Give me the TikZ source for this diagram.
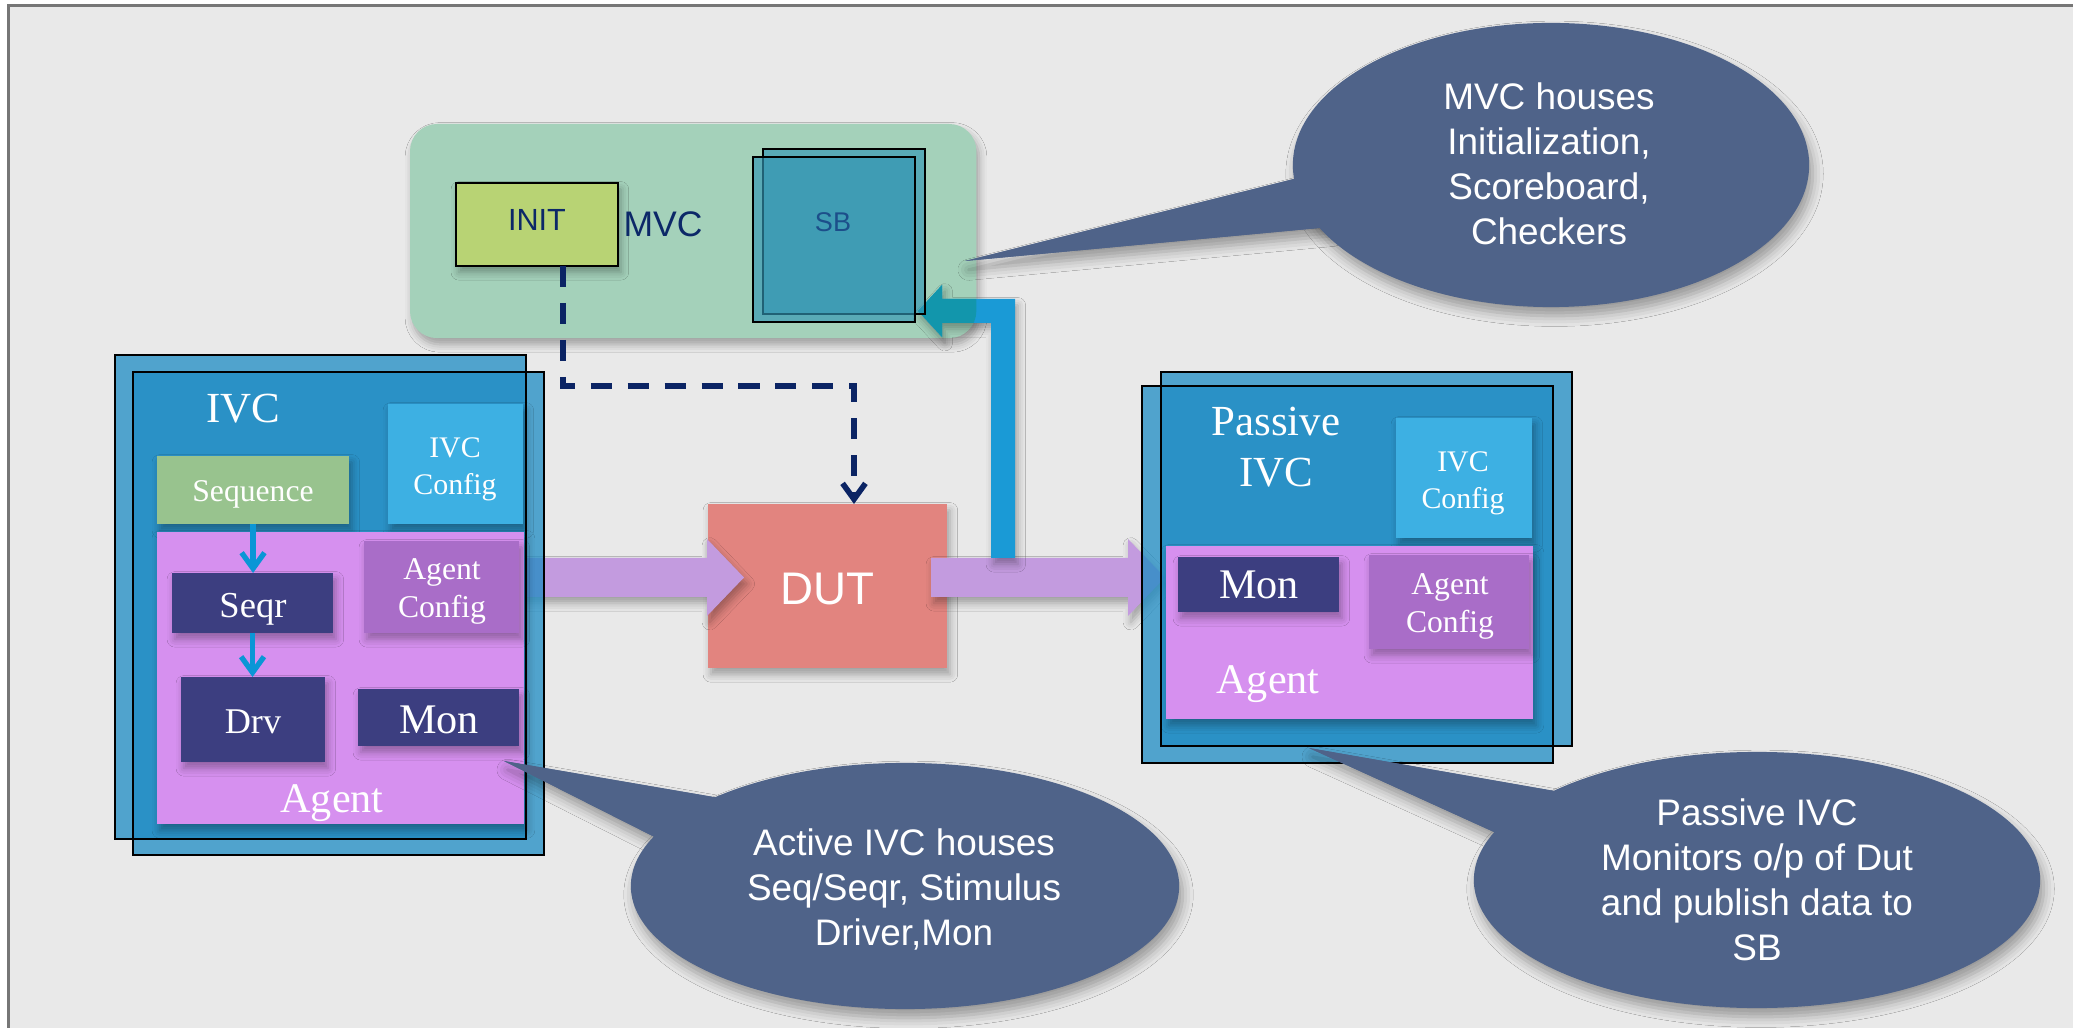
\documentclass[tikz,border=0pt]{standalone}
\usepackage{fontspec}
\setmainfont{Liberation Serif}
\setsansfont{Liberation Sans}
\usetikzlibrary{arrows.meta,calc,shadows.blur}
\definecolor{bggray}{RGB}{233,233,233}
\definecolor{framegray}{RGB}{118,118,118}
\definecolor{mvcgreen}{RGB}{164,209,186}
\definecolor{initgreen}{RGB}{184,211,116}
\definecolor{navytext}{RGB}{12,40,104}
\definecolor{sbteal}{RGB}{50,150,180}
\definecolor{sbtext}{RGB}{28,78,138}
\definecolor{ivcblue}{RGB}{30,140,196}
\definecolor{cfgblue}{RGB}{61,176,227}
\definecolor{agentpink}{RGB}{214,144,239}
\definecolor{agcfgpurple}{RGB}{169,109,200}
\definecolor{indigo}{RGB}{60,62,128}
\definecolor{seqgreen}{RGB}{152,195,142}
\definecolor{dutred}{RGB}{226,132,127}
\definecolor{fatpurple}{RGB}{195,155,223}
\definecolor{fatblue}{RGB}{26,154,214}
\definecolor{fatteal}{RGB}{18,150,172}
\definecolor{smallblue}{RGB}{10,150,214}
\definecolor{dashnavy}{RGB}{11,36,100}
\definecolor{calloutblue}{RGB}{79,99,137}
% #1 style, #2 start, #3 tip, #4 shaft half width, #5 head half width, #6 head length
\newcommand{\fatarrowH}[6]{\fill[#1] ($(#2)+(0,-#4)$) -- ($(#3)+(-#6,-#4)$) -- ($(#3)+(-#6,-#5)$) -- (#3) -- ($(#3)+(-#6,#5)$) -- ($(#3)+(-#6,#4)$) -- ($(#2)+(0,#4)$) -- cycle;}
\begin{document}
\begin{tikzpicture}[x=0.01cm, y=-0.01cm,
  box/.style 2 args={anchor=north west, inner sep=0pt, outer sep=0pt, minimum width=#1mm, minimum height=#2mm},
  shad/.style={blur shadow={shadow xshift=0.8pt, shadow yshift=-1.8pt, shadow blur radius=2.2pt, shadow opacity=32}},
  bigshad/.style={blur shadow={shadow xshift=1pt, shadow yshift=-2.5pt, shadow blur radius=3pt, shadow opacity=35}},
  lbl/.style={inner sep=0pt, outer sep=0pt, text=white, anchor=base},
  mlbl/.style={inner sep=0pt, outer sep=0pt, text=white, align=center},
  outline/.style={draw=black, line width=0.6pt},
  ivcfill/.style={fill=ivcblue, fill opacity=0.75},
  dasharrow/.style={dashnavy, line width=1.6pt, dash pattern=on 6pt off 4.5pt, -{Straight Barb[length=4.5pt,width=6.5pt]}},
  smallarrow/.style={smallblue, line width=1.5pt, -{Straight Barb[length=4.5pt,width=6.5pt]}},
  callout/.style={fill=calloutblue},
  callouttext/.style={inner sep=0pt, text=white, align=center, font=\sffamily\fontsize{10.5}{12.8}\selectfont}
]
\useasboundingbox (0,0) rectangle (2073,1028);
\fill[white] (0,0) rectangle (2073,1028);
\fill[bggray] (9,6) rectangle (2073,1028);
\draw[framegray, line width=0.6pt] (8.5,1028) -- (8.5,5.5) -- (2073,5.5);

% MVC container
\node[box={56.6}{21.4}, fill=mvcgreen, rounded corners=2.7mm, shad] (mvc) at (410,124) {};

% DUT
\node[box={23.9}{16.4}, fill=dutred, shad] (dut) at (708,504) {};

% fat purple arrows
\coordinate (a1s) at (500,577.5);
\coordinate (a1t) at (744,577.5);
\coordinate (a2s) at (931,577.5);
\coordinate (a2t) at (1165,577.5);
\fatarrowH{fatpurple, shad}{a1s}{a1t}{19.5}{38.5}{37}
\fatarrowH{fatpurple, shad}{a2s}{a2t}{19.5}{38.5}{37}
\node[lbl, font=\sffamily\fontsize{13}{13}\selectfont] (dutlbl) at (827,604) {DUT};

% fat blue arrow DUT output -> SB
\coordinate (bs) at (1003,558);
\coordinate (bt) at (918,311);
\fill[fatblue, shad] ($(bs)+(-12,0)$) -- ($(bs)+(12,0)$) -- ($(bs |- bt)+(12,-12)$) -- ($(bt)+(24,-12)$) -- ($(bt)+(24,-26)$) -- (bt) -- ($(bt)+(24,26)$) -- ($(bt)+(24,12)$) -- ($(bs |- bt)+(-12,12)$) -- cycle;
\begin{scope}
\clip[rounded corners=2.7mm] (mvc.north west) rectangle (mvc.south east);
\fill[fatteal] ($(bs)+(-12,0)$) -- ($(bs)+(12,0)$) -- ($(bs |- bt)+(12,-12)$) -- ($(bt)+(24,-12)$) -- ($(bt)+(24,-26)$) -- (bt) -- ($(bt)+(24,26)$) -- ($(bt)+(24,12)$) -- ($(bs |- bt)+(-12,12)$) -- cycle;
\end{scope}

% MVC contents
\node[box={16.2}{8.3}, fill=initgreen, outline, shad] (init) at (456,183) {};
\node[lbl, text=navytext, font=\sffamily\fontsize{8.7}{8.7}\selectfont] (initlbl) at (537,231) {INIT};
\node[lbl, text=navytext, font=\sffamily\fontsize{10.1}{10.1}\selectfont] (mvclbl) at (663,237) {MVC};
\node[box={16.2}{16.5}, fill=sbteal, fill opacity=0.65, outline] (sbback) at (763,149) {};
\node[box={16.2}{16.5}, fill=sbteal, fill opacity=0.65, outline] (sbfront) at (753,157) {};
\node[lbl, text=sbtext, font=\sffamily\fontsize{7.7}{7.7}\selectfont] (sblbl) at (833,232) {SB};

% dashed INIT -> DUT
\coordinate (dl) at (563,386);
\coordinate (dr) at (854,386);
\draw[dasharrow] (init.south -| dl) -- (dl) -| (dut.north -| dr);

% Active IVC
\node[box={41.1}{48.4}, ivcfill] (ivcback) at (115,355) {};
\node[box={41.1}{48.3}, ivcfill] (ivcfront) at (133,372) {};
\draw[outline] (ivcback.north west) rectangle (ivcback.south east);
\draw[outline] (ivcfront.north west) rectangle (ivcfront.south east);
\node[lbl, font=\fontsize{12.2}{12.2}\selectfont] (ivclbl) at (243,423) {IVC};
\node[box={13.5}{12.0}, fill=cfgblue, shad] (ivccfgL) at (388,404) {};
\node[mlbl, font=\fontsize{8.5}{10.5}\selectfont] (ivccfgLlbl) at (455,469) {IVC\\Config};
\node[box={19.2}{6.8}, fill=seqgreen, shad] (seq) at (157,456) {};
\node[lbl, font=\fontsize{9}{9}\selectfont] (seqlbl) at (253,502) {Sequence};
\node[box={36.7}{29.2}, fill=agentpink, shad] (agentL) at (157,532) {};
\node[box={15.5}{9.2}, fill=agcfgpurple, shad] (agcfgL) at (364,541) {};
\node[mlbl, font=\fontsize{9}{10.8}\selectfont] (agcfgLlbl) at (442,591) {Agent\\Config};
\node[box={16.1}{6.0}, fill=indigo, shad] (seqr) at (172,573) {};
\node[lbl, font=\fontsize{10.4}{10.4}\selectfont] (seqrlbl) at (253,617) {Seqr};
\node[box={14.4}{8.5}, fill=indigo, shad] (drv) at (181,677) {};
\node[lbl, font=\fontsize{10.3}{10.3}\selectfont] (drvlbl) at (253,733) {Drv};
\node[box={16.1}{5.7}, fill=indigo, shad] (monL) at (358,689) {};
\node[lbl, font=\fontsize{12}{12}\selectfont] (monLlbl) at (439,733) {Mon};
\node[lbl, font=\fontsize{12}{12}\selectfont] (agentLlbl) at (332,812) {Agent};
\draw[smallarrow] (seq.south) -- (seq.south |- seqr.north);
\draw[smallarrow] (seqr.south) -- (seqr.south |- drv.north);

% Passive IVC
\node[box={41.1}{37.4}, ivcfill] (pback) at (1161,372) {};
\node[box={41.1}{37.7}, ivcfill] (pfront) at (1142,386) {};
\draw[outline] (pback.north west) rectangle (pback.south east);
\draw[outline] (pfront.north west) rectangle (pfront.south east);
\node[mlbl, font=\fontsize{12.2}{14.5}\selectfont] (plbl) at (1276,447) {Passive\\IVC};
\node[box={13.6}{12.0}, fill=cfgblue, shad] (ivccfgR) at (1396,418) {};
\node[mlbl, font=\fontsize{8.5}{10.5}\selectfont] (ivccfgRlbl) at (1463,483) {IVC\\Config};
\node[box={36.7}{17.3}, fill=agentpink, shad] (agentR) at (1166,546) {};
\node[box={16.1}{5.5}, fill=indigo, shad] (monR) at (1178,557) {};
\node[lbl, font=\fontsize{12}{12}\selectfont] (monRlbl) at (1259,599) {Mon};
\node[box={16.0}{9.4}, fill=agcfgpurple, shad] (agcfgR) at (1369,555) {};
\node[mlbl, font=\fontsize{9}{10.8}\selectfont] (agcfgRlbl) at (1450,606) {Agent\\Config};
\node[lbl, font=\fontsize{12}{12}\selectfont] (agentRlbl) at (1268,693) {Agent};

% Callout 1 (MVC)
\coordinate (c1tip) at (965,261);
\fill[callout, bigshad] (c1tip) -- (1330,170) -- (1330,227) -- cycle;
\fill[callout, bigshad] (1551,165) ellipse [x radius=25.8mm, y radius=14.2mm];
\fill[callout] (c1tip) -- (1330,170) -- (1330,227) -- cycle;
\node[callouttext] (c1) at (1549,164) {MVC houses\\Initialization,\\Scoreboard,\\Checkers};

% Callout 2 (Active IVC)
\coordinate (c2tip) at (504,761);
\fill[callout, bigshad] (c2tip) -- (760,805) -- (720,870) -- cycle;
\fill[callout, bigshad] (905,886) ellipse [x radius=27.4mm, y radius=12.3mm];
\fill[callout] (c2tip) -- (760,805) -- (720,870) -- cycle;
\node[callouttext] (c2) at (904,889) {Active IVC houses\\Seq/Seqr, Stimulus\\Driver,Mon};

% Callout 3 (Passive IVC)
\coordinate (c3tip) at (1309,748);
\fill[callout, bigshad] (c3tip) -- (1600,799) -- (1560,862) -- cycle;
\fill[callout, bigshad] (1757,880) ellipse [x radius=28.3mm, y radius=12.8mm];
\fill[callout] (c3tip) -- (1600,799) -- (1560,862) -- cycle;
\node[callouttext] (c3) at (1757,880) {Passive IVC\\Monitors o/p of Dut\\and publish data to\\SB};
\end{tikzpicture}
\end{document}
